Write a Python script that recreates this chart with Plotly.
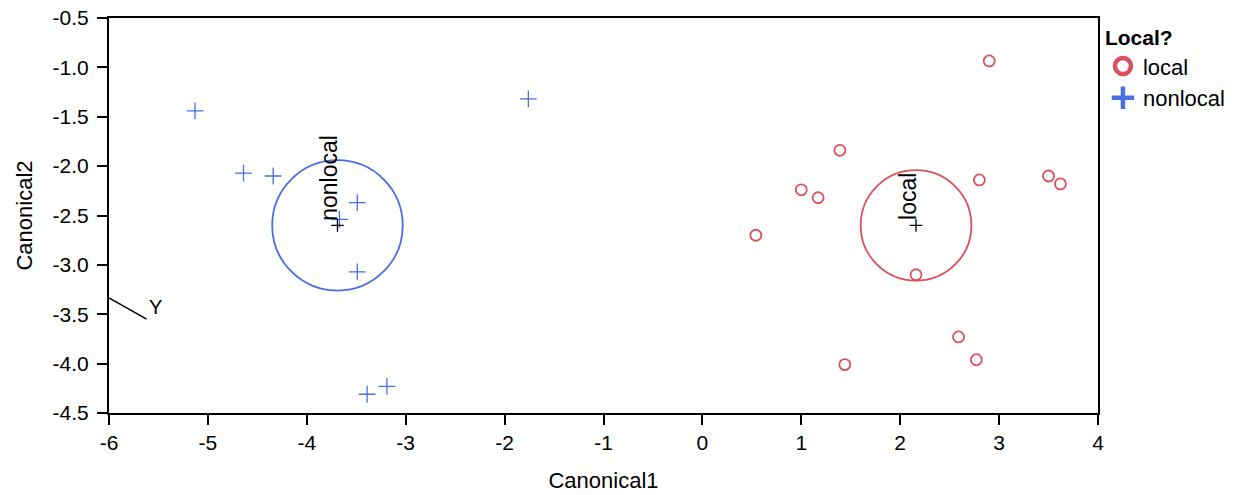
import plotly.graph_objects as go

# Data
nonlocal_x = [-5.13, -4.64, -4.34, -1.76, -3.49, -3.67, -3.49, -3.39, -3.19]
nonlocal_y = [-1.44, -2.07, -2.10, -1.32, -2.37, -2.54, -3.07, -4.31, -4.23]

local_x = [2.90, 1.39, 1.00, 1.17, 2.80, 3.50, 3.62, 0.54, 2.16, 2.59, 2.77, 1.44]
local_y = [-0.935, -1.84, -2.24, -2.32, -2.14, -2.10, -2.18, -2.70, -3.10, -3.73, -3.96, -4.01]

centroid_names = ["nonlocal", "local"]
centroid_x = [-3.69, 2.16]
centroid_y = [-2.60, -2.60]
circle_r = [0.66, 0.56]

ray_x = [-6.0, -5.62]
ray_y = [-3.335, -3.55]
ray_label = "Y"

x_ticks = [-6, -5, -4, -3, -2, -1, 0, 1, 2, 3, 4]
y_ticks = [-4.5, -4.0, -3.5, -3.0, -2.5, -2.0, -1.5, -1.0, -0.5]

BLUE = "#4a6fe0"
RED = "#d9515c"
FONT = "Liberation Sans, Arial, sans-serif"

fig = go.Figure()

# data points
fig.add_trace(go.Scatter(x=local_x, y=local_y, mode="markers", name="local",
                         showlegend=False,
                         marker=dict(symbol="circle-open", size=11, color=RED,
                                     line=dict(width=1.8, color=RED))))
fig.add_trace(go.Scatter(x=nonlocal_x, y=nonlocal_y, mode="markers", name="nonlocal",
                         showlegend=False,
                         marker=dict(symbol="cross-thin-open", size=12, color=BLUE,
                                     line=dict(width=1.3, color=BLUE))))

# legend-only traces (bolder symbols, like the reference legend)
fig.add_trace(go.Scatter(x=[None], y=[None], mode="markers", name="local",
                         marker=dict(symbol="circle-open", size=16, color=RED,
                                     line=dict(width=4.5, color=RED))))
fig.add_trace(go.Scatter(x=[None], y=[None], mode="markers", name="nonlocal",
                         marker=dict(symbol="cross-thin-open", size=16, color=BLUE,
                                     line=dict(width=4.5, color=BLUE))))

# centroid markers
fig.add_trace(go.Scatter(x=centroid_x, y=centroid_y, mode="markers", showlegend=False,
                         marker=dict(symbol="cross-thin-open", size=9, color="black",
                                     line=dict(width=1.3, color="black"))))

# biplot ray
fig.add_trace(go.Scatter(x=ray_x, y=ray_y, mode="lines", showlegend=False,
                         line=dict(color="black", width=1.5)))

colors = [BLUE, RED]
for name, cx, cy, r, c in zip(centroid_names, centroid_x, centroid_y, circle_r, colors):
    fig.add_shape(type="circle", xref="x", yref="y", x0=cx - r, x1=cx + r,
                  y0=cy - r, y1=cy + r, line=dict(color=c, width=1.8))
    fig.add_annotation(x=cx, y=cy, text=name, textangle=-90, showarrow=False,
                       xanchor="center", yanchor="bottom", xshift=-8, yshift=3,
                       font=dict(family=FONT, size=23, color="black"))

fig.add_annotation(x=ray_x[1], y=ray_y[1], text=ray_label, showarrow=False,
                   xanchor="left", yanchor="bottom", xshift=0, yshift=-1,
                   font=dict(family=FONT, size=20, color="black"))

axis_common = dict(showline=True, linecolor="black", linewidth=2, mirror=True,
                   ticks="outside", ticklen=10, tickwidth=1.5, tickcolor="black",
                   showgrid=False, zeroline=False, automargin=False,
                   ticklabeloverflow="allow",
                   tickfont=dict(family=FONT, size=21, color="black"))

fig.update_xaxes(range=[-6, 4], tickvals=x_ticks, ticktext=[str(v) for v in x_ticks],
                 title=dict(text="Canonical1", font=dict(family=FONT, size=22, color="black"),
                            standoff=19),
                 **axis_common)
fig.update_yaxes(range=[-4.5, -0.5], tickvals=y_ticks,
                 ticktext=[f"{v:.1f}" for v in y_ticks],
                 ticklabelstandoff=4,
                 title=dict(text="Canonical2", font=dict(family=FONT, size=22, color="black"),
                            standoff=14),
                 **axis_common)

fig.update_layout(
    width=1238, height=495,
    margin=dict(l=109, r=140, t=18, b=82, autoexpand=False),
    paper_bgcolor="white", plot_bgcolor="white",
    font=dict(family=FONT, size=20, color="black"),
    legend=dict(title=dict(text="<b>Local?</b>", font=dict(family=FONT, size=21)),
                x=1.005, xanchor="left", y=1.0, yanchor="top",
                font=dict(family=FONT, size=22), tracegroupgap=0,
                itemwidth=30, bgcolor="rgba(0,0,0,0)"),
)

fig.write_html("out.html", config={"displayModeBar": False},
               post_script="document.body.style.margin='0';document.body.style.padding='0';")
